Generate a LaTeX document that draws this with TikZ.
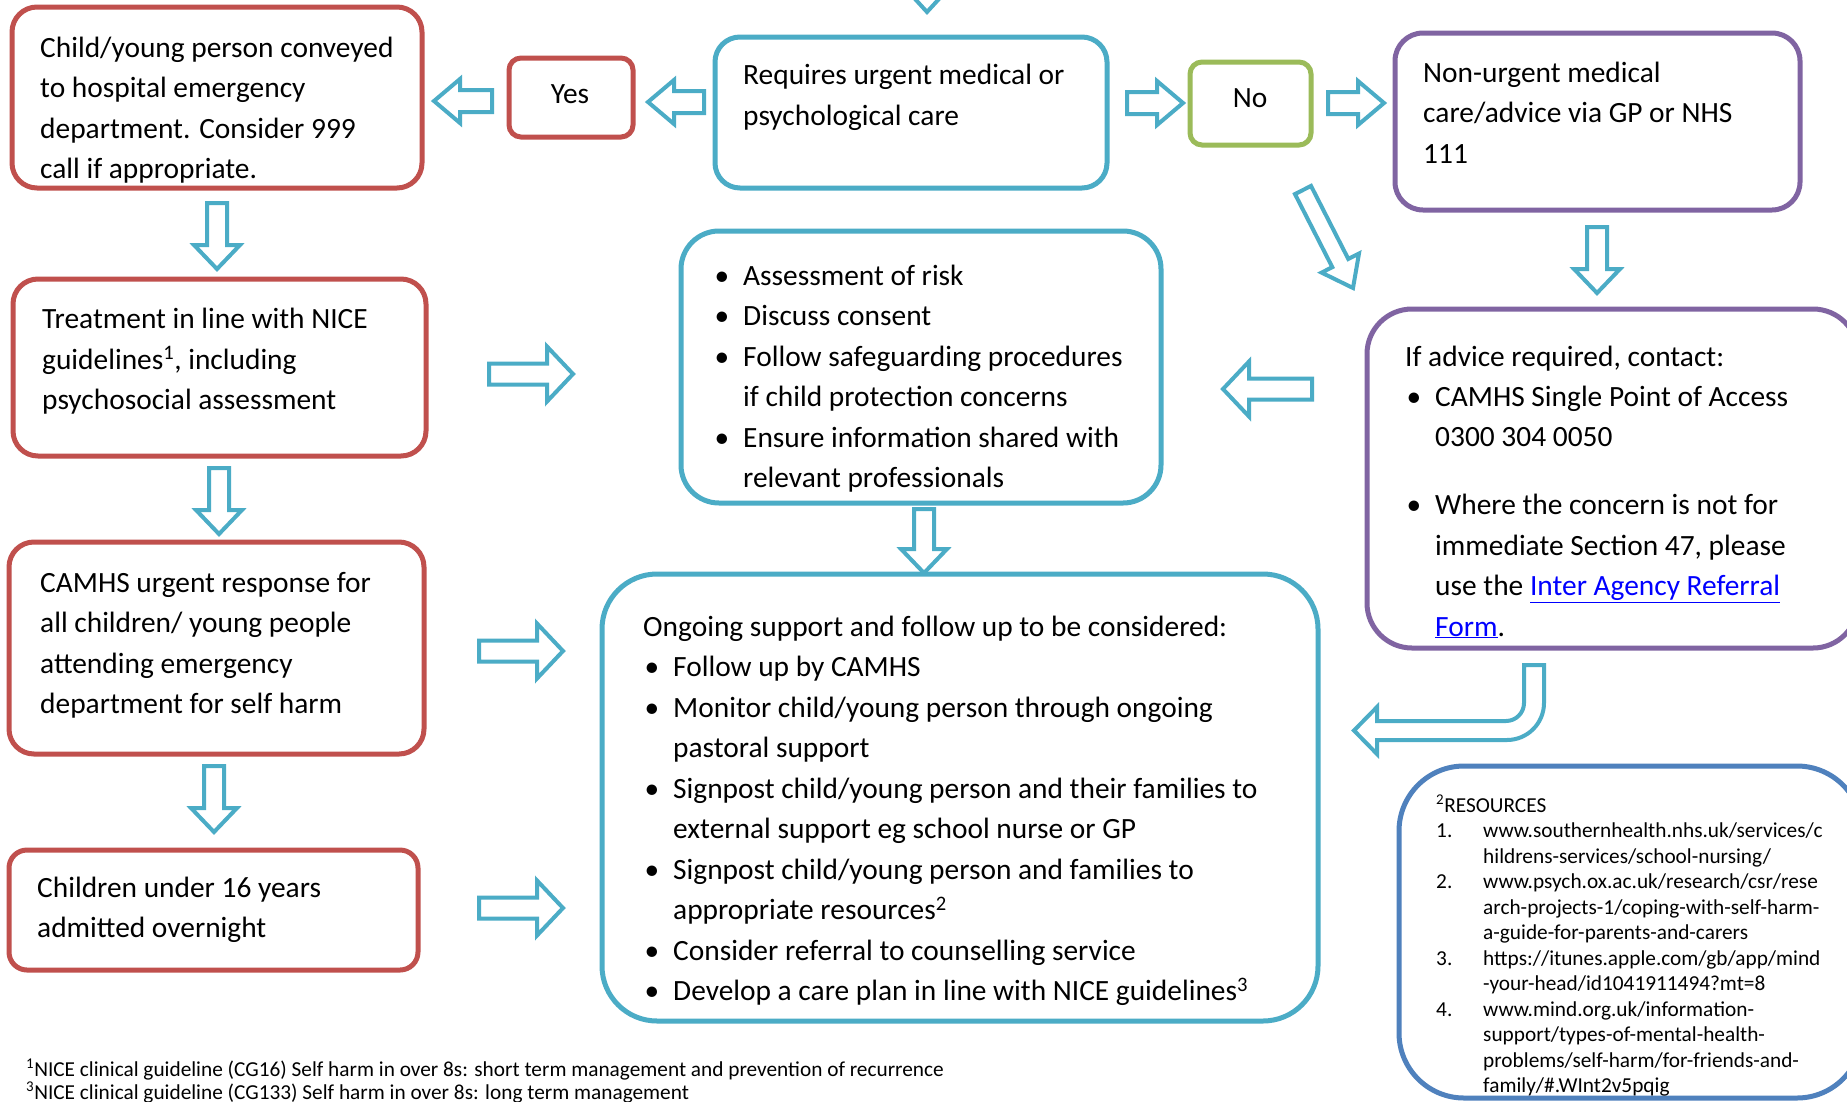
\documentclass[tikz,border=0pt]{standalone}
\usepackage{fontspec}
\setmainfont{Carlito}
\usetikzlibrary{calc,fit}
\definecolor{cred}{HTML}{C0504D}
\definecolor{cblue}{HTML}{4BACC6}
\definecolor{cgreen}{HTML}{9BBB59}
\definecolor{cpurple}{HTML}{8064A2}
\definecolor{cres}{HTML}{4F81BD}
\definecolor{clink}{HTML}{0000FF}
\newcommand\bl{\leavevmode\llap{\textbullet\hspace{14pt}}}
\newcommand\blockarrow[6]{%
  \coordinate (#1-s) at #2;
  \coordinate (#1-e) at #3;
  \coordinate (#1-b) at ($(#1-e)!#6!(#1-s)$);
  \draw[barrow] ($(#1-s)!#4!90:(#1-e)$) -- ($(#1-b)!#4!90:(#1-e)$) -- ($(#1-b)!#5!90:(#1-e)$)
     -- (#1-e) -- ($(#1-b)!#5!-90:(#1-e)$) -- ($(#1-b)!#4!-90:(#1-e)$) -- ($(#1-s)!#4!-90:(#1-e)$) -- cycle;}
\begin{document}
\begin{tikzpicture}[x=1pt,y=-1pt,
  box/.style={draw, line width=5pt, fill=white, inner sep=0pt, rounded corners=#1},
  box/.default=25pt,
  barrow/.style={draw=cblue, line width=4pt, fill=white, line join=miter},
  txt/.style={inner sep=0pt, anchor=base west, font=\fontsize{29.4}{40.5}\selectfont},
  small/.style={inner sep=0pt, anchor=base west, font=\fontsize{21.3}{25.5}\selectfont},
]
\useasboundingbox[fill=white] (0,0) rectangle (1847,1101);

% boxes
\node[box, draw=cred, fit={(12,7) (422,188)}] (b1) {};
\node[box=12pt, draw=cred, fit={(509,58) (633,137)}] (yes) {};
\node[box, draw=cblue, fit={(715,37) (1107,188)}] (req) {};
\node[box=12pt, draw=cgreen, fit={(1190,62) (1311,145)}] (no) {};
\node[box=28pt, draw=cpurple, fit={(1395,33) (1800,210)}] (nu) {};
\node[box, draw=cred, fit={(13,279) (426,456)}] (treat) {};
\node[box=38pt, draw=cblue, fit={(681,231) (1161,503)}] (mid) {};
\node[box=45pt, draw=cpurple, fit={(1367,309) (1858,648)}] (adv) {};
\node[box, draw=cred, fit={(9,542) (424,754)}] (camhs) {};
\node[box=55pt, draw=cblue, fit={(602,574) (1318,1021)}] (big) {};
\node[box=18pt, draw=cred, fit={(9,850) (418,970)}] (u16) {};
\node[box=65pt, draw=cres, fit={(1399,766) (1862,1098)}] (res) {};

% texts
\node[txt] (t1) at (40,57) {\parbox[t]{380pt}{Child/young person conveyed\\to hospital emergency\\department. Consider 999\\call if appropriate.}};
\node[txt, anchor=base] (tyes) at (570,103) {Yes};
\node[txt] (treq) at (743,84.5) {\parbox[t]{360pt}{Requires urgent medical or\\psychological care}};
\node[txt, anchor=base] (tno) at (1250,107) {No};
\node[txt] (tnu) at (1423,82) {\parbox[t]{370pt}{Non-urgent medical\\care/advice via GP or NHS\\111}};
\node[txt] (ttreat) at (42,328.5) {\parbox[t]{380pt}{Treatment in line with NICE\\guidelines\textsuperscript{1}, including\\psychosocial assessment}};
\node[txt] (tmid) at (743,285) {\parbox[t]{400pt}{\bl Assessment of risk\\\bl Discuss consent\\\bl Follow safeguarding procedures\\if child protection concerns\\\bl Ensure information shared with\\relevant professionals}};
\node[txt] (tadv) at (1405,366) {\parbox[t]{440pt}{If advice required, contact:}};
\node[txt] (tadv2) at (1435,406) {\parbox[t]{420pt}{\bl CAMHS Single Point of Access\\0300 304 0050\\[27.5pt]\bl Where the concern is not for\\immediate Section 47, please\\use the {\color{clink}\underline{Inter Agency Referral}}\\{\color{clink}\underline{Form}}.}};
\node[txt] (tcamhs) at (40,592) {\parbox[t]{380pt}{CAMHS urgent response for\\all children/ young people\\attending emergency\\department for self harm}};
\node[txt] (tu16) at (37,897) {\parbox[t]{380pt}{Children under 16 years\\admitted overnight}};
\node[txt] (tbig) at (643,636) {\parbox[t]{640pt}{Ongoing support and follow up to be considered:}};
\node[txt] (tbig2) at (673,676.5) {\parbox[t]{620pt}{\bl Follow up by CAMHS\\\bl Monitor child/young person through ongoing\\pastoral support\\\bl Signpost child/young person and their families to\\external support eg school nurse or GP\\\bl Signpost child/young person and families to\\appropriate resources\textsuperscript{2}\\\bl Consider referral to counselling service\\\bl Develop a care plan in line with NICE guidelines\textsuperscript{3}}};
\node[small] (tres) at (1436,812) {\parbox[t]{400pt}{\textsuperscript{2}RESOURCES}};
\node[small] (tresn) at (1436,837.5) {\parbox[t]{40pt}{1.\\\\2.\\\\\\3.\\\\4.}};
\node[small] (tresu) at (1483,837.5) {\parbox[t]{380pt}{www.southernhealth.nhs.uk/services/c\\hildrens-services/school-nursing/\\www.psych.ox.ac.uk/research/csr/rese\\arch-projects-1/coping-with-self-harm-\\a-guide-for-parents-and-carers\\https://itunes.apple.com/gb/app/mind\\-your-head/id1041911494?mt=8\\www.mind.org.uk/information-\\support/types-of-mental-health-\\problems/self-harm/for-friends-and-\\family/\#.WInt2v5pqig}};
\node[small, font=\fontsize{21.3}{23}\selectfont] (tfoot) at (26,1076) {\parbox[t]{1200pt}{\textsuperscript{1}NICE clinical guideline (CG16) Self harm in over 8s: short term management and prevention of recurrence\\\textsuperscript{3}NICE clinical guideline (CG133) Self harm in over 8s: long term management}};

% block arrows
\blockarrow{atop}{(927,-60)}{(927,12)}{9pt}{22pt}{24pt}
\blockarrow{ayes}{(492,101)}{(434,101)}{11pt}{22pt}{26pt}
\blockarrow{areqyes}{(704,102)}{(648,102)}{11pt}{22pt}{26pt}
\blockarrow{areqno}{(1127,103)}{(1183,103)}{11pt}{22pt}{26pt}
\blockarrow{anonu}{(1328,103)}{(1384,103)}{11pt}{22pt}{26pt}
\blockarrow{ab1}{(217,203)}{(217,269)}{10pt}{23pt}{24pt}
\blockarrow{atreat}{(219,468)}{(219,534)}{10pt}{23pt}{24pt}
\blockarrow{acamhs}{(214,766)}{(214,832)}{10pt}{23pt}{24pt}
\blockarrow{anu}{(1597,227)}{(1597,293)}{10pt}{23pt}{24pt}
\blockarrow{amid}{(924,509)}{(924,573)}{10pt}{23pt}{24pt}
\blockarrow{adiag}{(1303,190)}{(1353,288)}{9pt}{21pt}{28pt}
\blockarrow{atm}{(489,374)}{(573,374)}{10.5pt}{27.5pt}{26pt}
\blockarrow{aadv}{(1312,389)}{(1223,389)}{10.5pt}{27.5pt}{26pt}
\blockarrow{acb}{(479,651)}{(563,651)}{10.5pt}{27.5pt}{26pt}
\blockarrow{aub}{(479,908)}{(563,908)}{10.5pt}{27.5pt}{26pt}
% bent arrow
\draw[barrow] (1524,665) -- (1544,665) -- (1544,703) .. controls (1544,723.4) and (1527.4,740) .. (1507,740)
  -- (1377,740) -- (1377,754) -- (1354,730.5) -- (1377,707) -- (1377,721) -- (1506,721)
  .. controls (1515.9,721) and (1524,712.9) .. (1524,703) -- cycle;
\end{tikzpicture}
\end{document}
